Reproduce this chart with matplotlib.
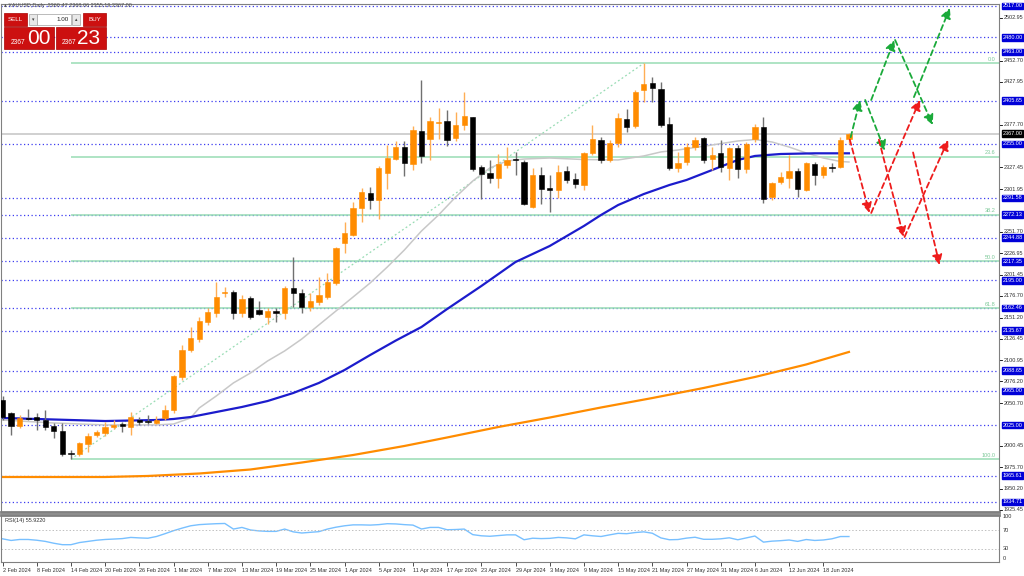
import matplotlib.pyplot as plt
import matplotlib.transforms as mtransforms
from matplotlib.patches import Rectangle

plt.rcParams['font.family'] = ['Liberation Sans', 'DejaVu Sans']

W, H = 1024, 576

# --- свечи XAUUSD Daily, 2 Feb 2024 .. 21 Jun 2024 (индекс бара 0..99)
opens = [2054.4, 2038.8, 2023.9, 2033.0, 2034.8, 2030.9, 2023.9, 2018.0, 1992.5, 1991.0,
         2002.7, 2013.3, 2015.3, 2022.3, 2025.9, 2023.1, 2030.9, 2029.7, 2027.8, 2033.6,
         2042.7, 2081.1, 2113.1, 2125.7, 2146.3, 2156.9, 2179.6, 2181.6, 2156.2, 2173.8,
         2160.0, 2152.2, 2158.9, 2156.2, 2185.5, 2179.6, 2163.2, 2169.8, 2175.7, 2191.4,
         2239.1, 2248.1, 2279.5, 2297.8, 2289.2, 2321.3, 2337.0, 2351.1, 2331.5, 2370.2,
         2360.8, 2379.2, 2382.3, 2362.3, 2377.2, 2386.3, 2327.6, 2320.5, 2314.7, 2330.3,
         2336.5, 2334.2, 2281.3, 2318.5, 2303.6, 2300.9, 2323.6, 2313.5, 2306.8, 2344.7,
         2359.6, 2336.2, 2356.5, 2384.7, 2376.1, 2418.3, 2426.2, 2419.2, 2378.1, 2326.4,
         2334.2, 2351.1, 2361.6, 2337.0, 2344.0, 2326.4, 2350.6, 2325.2, 2360.5, 2375.3,
         2292.4, 2310.7, 2314.7, 2323.6, 2300.9, 2331.5, 2318.5, 2327.4, 2328.3, 2360.47]
highs = [2059.0, 2040.7, 2036.8, 2043.5, 2038.8, 2042.7, 2027.0, 2027.0, 1995.7, 2005.6,
         2015.3, 2019.2, 2028.9, 2030.5, 2028.9, 2040.7, 2034.8, 2036.8, 2035.6, 2048.5,
         2083.8, 2119.0, 2140.5, 2152.2, 2162.0, 2193.3, 2187.4, 2183.5, 2177.7, 2176.5,
         2171.0, 2162.0, 2162.0, 2188.2, 2222.6, 2184.4, 2179.6, 2199.2, 2203.1, 2234.5,
         2263.7, 2286.7, 2302.9, 2304.8, 2329.1, 2353.8, 2359.0, 2358.8, 2376.1, 2430.1,
         2387.0, 2396.9, 2394.9, 2392.6, 2416.3, 2387.0, 2330.3, 2336.2, 2343.2, 2351.1,
         2345.9, 2336.2, 2326.4, 2327.6, 2318.5, 2330.3, 2328.7, 2320.9, 2345.9, 2377.2,
         2362.8, 2359.5, 2391.0, 2395.7, 2418.5, 2449.7, 2433.2, 2427.8, 2387.0, 2345.9,
         2355.8, 2363.5, 2363.5, 2351.8, 2359.6, 2351.8, 2353.8, 2357.3, 2378.4, 2387.0,
         2310.5, 2322.4, 2342.0, 2326.4, 2334.2, 2334.2, 2330.3, 2332.3, 2363.5, 2368.06]
lows = [2031.0, 2013.3, 2021.2, 2031.0, 2019.2, 2019.2, 2009.4, 1988.7, 1984.6, 1988.7,
        1993.7, 2011.0, 2012.0, 2020.0, 2017.2, 2013.3, 2025.0, 2026.0, 2026.0, 2030.9,
        2038.8, 2077.9, 2111.0, 2122.8, 2142.5, 2152.2, 2175.7, 2149.0, 2152.2, 2149.8,
        2154.2, 2143.9, 2146.0, 2149.0, 2164.0, 2156.2, 2159.3, 2166.0, 2172.6, 2189.8,
        2226.6, 2246.5, 2263.7, 2278.3, 2266.5, 2301.8, 2336.0, 2317.4, 2324.4, 2332.3,
        2336.2, 2360.8, 2352.6, 2359.0, 2371.4, 2322.9, 2290.0, 2309.5, 2303.6, 2326.4,
        2318.5, 2283.3, 2279.5, 2284.5, 2275.5, 2291.2, 2309.3, 2303.0, 2301.0, 2342.0,
        2332.3, 2334.0, 2351.0, 2369.4, 2373.7, 2404.6, 2404.6, 2375.3, 2324.4, 2322.4,
        2330.3, 2348.0, 2332.3, 2324.4, 2322.4, 2312.7, 2314.7, 2321.3, 2357.6, 2285.3,
        2289.2, 2307.6, 2302.9, 2293.1, 2299.6, 2306.8, 2314.7, 2322.4, 2326.4, 2355.19]
closes = [2034.5, 2023.9, 2032.9, 2032.5, 2030.9, 2022.3, 2018.0, 1991.0, 1990.6, 2003.6,
          2012.5, 2017.2, 2022.3, 2025.0, 2023.9, 2034.8, 2029.0, 2028.2, 2030.9, 2042.7,
          2082.6, 2113.1, 2126.8, 2147.1, 2158.1, 2175.7, 2181.6, 2156.2, 2172.6, 2152.2,
          2155.0, 2158.9, 2156.2, 2185.5, 2179.6, 2164.0, 2171.0, 2177.7, 2193.3, 2232.5,
          2250.1, 2279.5, 2299.0, 2289.2, 2326.4, 2338.2, 2351.8, 2332.3, 2371.4, 2341.2,
          2381.9, 2380.8, 2359.6, 2377.2, 2387.8, 2325.2, 2319.7, 2314.7, 2331.5, 2336.2,
          2336.0, 2284.5, 2318.5, 2302.1, 2300.9, 2322.4, 2312.7, 2307.6, 2344.7, 2360.5,
          2336.2, 2356.5, 2385.1, 2375.3, 2416.3, 2425.0, 2420.3, 2377.2, 2326.4, 2333.0,
          2351.8, 2359.6, 2336.2, 2342.0, 2328.3, 2349.9, 2325.6, 2354.6, 2375.3, 2290.4,
          2308.8, 2315.9, 2323.6, 2301.8, 2333.0, 2318.5, 2328.3, 2326.8, 2359.6, 2367.00]

# --- скользящие средние (индекс бара, цена)
ma_gray_idx = [0, 6, 12, 18, 20, 22, 23, 25, 27, 29, 31, 33, 35, 37, 39, 41, 43, 45, 47, 49,
               51, 53, 55, 57, 59, 61, 64, 68, 72, 75, 77, 79, 83, 86, 88, 90, 92, 94, 96, 98, 99]
ma_gray_val = [2030.9, 2027.4, 2025.1, 2025.1, 2026.2, 2033.3, 2045.0, 2059.1, 2074.4, 2086.1,
               2100.2, 2112.0, 2126.0, 2142.5, 2158.9, 2175.3, 2191.8, 2210.5, 2230.5, 2252.8,
               2271.6, 2292.7, 2311.5, 2326.8, 2335.0, 2337.3, 2338.5, 2336.7, 2336.2, 2340.9,
               2345.6, 2347.9, 2353.8, 2358.5, 2360.2, 2357.3, 2351.4, 2344.4, 2338.5, 2334.4, 2333.8]
ma_blue_idx = [0, 6, 12, 18, 20, 22, 25, 28, 31, 34, 37, 40, 43, 46, 49, 52, 56, 60, 64, 68,
               70, 72, 75, 78, 80, 83, 86, 88, 91, 95, 99]
ma_blue_val = [2033.3, 2031.5, 2029.7, 2030.9, 2032.1, 2034.4, 2040.3, 2046.2, 2053.2, 2062.6,
               2074.4, 2089.6, 2107.2, 2124.2, 2140.1, 2161.2, 2188.2, 2216.4, 2235.2, 2258.7,
               2271.6, 2283.3, 2296.2, 2306.8, 2312.7, 2324.4, 2336.2, 2340.9, 2343.2, 2344.0, 2344.0]
ma_orange_idx = [0, 12, 17, 23, 29, 35, 41, 47, 52, 58, 64, 70, 76, 82, 88, 94, 99]
ma_orange_val = [1964.0, 1964.0, 1965.2, 1968.1, 1972.8, 1981.0, 1989.8, 2000.4, 2010.4, 2022.7,
                 2033.8, 2045.6, 2056.7, 2068.5, 2081.4, 2096.1, 2110.8]

# --- RSI(14) по барам
rsi = [51, 47.5, 49.6, 49.6, 48, 45.5, 41.5, 38.4, 38.4, 43,
       45.5, 48, 49.6, 50.5, 51.5, 54, 53, 52.3, 56, 62,
       68.5, 74, 79, 81.5, 82.6, 83.5, 84, 72, 75.5, 70,
       68, 67, 67, 72, 66, 63.5, 65, 66.4, 72, 76,
       79, 81, 81, 80.5, 81.5, 83.5, 83, 81.5, 80.5, 72.1,
       75.5, 75.5, 70.5, 71, 72, 60, 57.5, 56.5, 58, 59.5,
       59.5, 49, 52.3, 51.5, 52, 54, 53, 51, 59.5, 57.5,
       56, 59.5, 62.8, 62, 64.5, 66, 63, 53, 49, 49.5,
       52.5, 54.4, 50, 50, 51, 53.2, 49, 53, 57, 43.9,
       46, 47, 48.5, 45.5, 49.5, 47.5, 48.5, 51, 55.9, 55.92]

# --- горизонтальные уровни и Фибоначчи
levels = [2517.00, 2480.00, 2463.00, 2405.65, 2355.00, 2291.58, 2272.13, 2244.88, 2217.35,
          2195.00, 2162.46, 2135.67, 2088.65, 2065.00, 2025.00, 1965.61, 1934.71]
price_ticks = [2502.95, 2452.70, 2427.95, 2377.70, 2327.45, 2301.95, 2251.70, 2226.95, 2201.45,
               2176.70, 2151.20, 2126.45, 2100.95, 2076.20, 2050.70, 2000.45, 1975.70, 1950.20, 1925.45]
last_price = 2367.00
fib_levels = [2449.7, 2340.0, 2272.1, 2217.35, 2162.6, 1985.0]
fib_names = ['0.0', '23.6', '38.2', '50.0', '61.8', '100.0']
fib_start, fib_end = 8, 75

# --- прогнозные стрелки (бар, цена)
green_arrows = [((99.2, 2363.0), (100.3, 2406.6)),
                ((100.9, 2406.6), (103.2, 2347.0)),
                ((101.6, 2406.6), (104.3, 2477.0)),
                ((104.4, 2477.0), (108.8, 2377.3)),
                ((106.6, 2410.0), (110.8, 2514.6))]
red_arrows = [((99.1, 2360.0), (101.4, 2274.0)),
              ((101.6, 2274.0), (107.3, 2406.6)),
              ((102.5, 2360.0), (105.4, 2245.8)),
              ((105.5, 2245.8), (110.6, 2359.6)),
              ((106.5, 2345.0), (109.6, 2212.9))]

date_idx = list(range(0, 100, 4))
date_labels = ['2 Feb 2024', '8 Feb 2024', '14 Feb 2024', '20 Feb 2024', '26 Feb 2024',
               '1 Mar 2024', '7 Mar 2024', '13 Mar 2024', '19 Mar 2024', '25 Mar 2024',
               '1 Apr 2024', '5 Apr 2024', '11 Apr 2024', '17 Apr 2024', '23 Apr 2024',
               '29 Apr 2024', '3 May 2024', '9 May 2024', '15 May 2024', '21 May 2024',
               '27 May 2024', '31 May 2024', '6 Jun 2024', '12 Jun 2024', '18 Jun 2024']

BULL = '#FF8C00'
BEAR = '#000000'
FS = 4.0

fig = plt.figure(figsize=(W / 100, H / 100), dpi=100)
fig.patch.set_facecolor('white')


def px_axes(x0, y0, x1, y1):
    return fig.add_axes([x0 / W, 1 - y1 / H, (x1 - x0) / W, (y1 - y0) / H])


ax = px_axes(1, 4, 999, 512)
ax_rsi = px_axes(1, 515, 999, 562)
XMIN, XMAX = -0.18, 116.55
ax.set_xlim(XMIN, XMAX)
ax.set_ylim(1922.9, 2519.3)
ax.set_xticks([])
ax.set_yticks([])

# уровни
for lv in levels:
    ax.axhline(lv, color='#3c3cf0', ls=(0, (1, 2)), lw=0.9, zorder=1)
ax.axhline(last_price, color='#c8c8c8', lw=1.2, zorder=1)

# Фибоначчи
for lv, nm in zip(fib_levels, fib_names):
    ax.hlines(lv, fib_start, XMAX, color='#98dcb4', lw=1.1, zorder=1)
    ax.text(XMAX - 0.4, lv + 1.5, nm, color='#7cc898', fontsize=FS, ha='right', va='bottom')
ax.plot([fib_start, fib_end], [fib_levels[-1], fib_levels[0]], color='#98dcb4',
        ls=(0, (1.5, 2)), lw=0.9, zorder=1)

# скользящие
ax.plot(ma_orange_idx, ma_orange_val, color='#FF8C00', lw=1.6, zorder=2)
ax.plot(ma_gray_idx, ma_gray_val, color='#c8c8c8', lw=1.1, zorder=2)
ax.plot(ma_blue_idx, ma_blue_val, color='#1c1ccc', lw=1.6, zorder=2)

# свечи
for i, (o, h, l, c) in enumerate(zip(opens, highs, lows, closes)):
    bull = c >= o
    ax.vlines(i, l, h, color='#ffae55' if bull else '#707070', lw=1.0, zorder=3)
    ax.bar(i, max(abs(c - o), 1.0), bottom=min(o, c), width=0.62,
           color=BULL if bull else BEAR, edgecolor=BULL if bull else BEAR, lw=0.4, zorder=4)


# стрелки
def dashed_arrow(p0, p1, col):
    ax.annotate('', xy=p1, xytext=p0,
                arrowprops=dict(arrowstyle='-|>,head_length=0.6,head_width=0.3', color=col,
                                lw=1.3, ls=(0, (3, 2)), shrinkA=0, shrinkB=0), zorder=5)


for p0, p1 in green_arrows:
    dashed_arrow(p0, p1, '#1aaa3a')
for p0, p1 in red_arrows:
    dashed_arrow(p0, p1, '#ee1c1c')

# подписи цены справа
trans = mtransforms.blended_transform_factory(ax.transAxes, ax.transData)
for v in price_ticks:
    ax.plot([1.0, 1.003], [v, v], transform=trans, color='black', lw=0.6, clip_on=False)
    ax.text(1.0045, v, f'{v:.2f}', transform=trans, fontsize=FS, va='center', ha='left',
            color='#303030')
for v in levels:
    ax.text(1.0035, v, f'{v:.2f}', transform=trans, fontsize=FS, va='center', ha='left',
            color='white', bbox=dict(boxstyle='square,pad=0.15', fc='#0000d8', ec='#0000d8'))
ax.text(1.0035, last_price, f'{last_price:.2f}', transform=trans, fontsize=FS, va='center',
        ha='left', color='white', bbox=dict(boxstyle='square,pad=0.15', fc='black', ec='black'))

for sp in ax.spines.values():
    sp.set_color('#808080')
    sp.set_linewidth(0.8)
ax.spines['bottom'].set_linewidth(2.0)

# RSI
ax_rsi.set_xlim(XMIN, XMAX)
ax_rsi.set_ylim(1.2, 102.2)
ax_rsi.plot(range(len(rsi)), rsi, color='#78c0ff', lw=1.0)
for lv in (70, 30):
    ax_rsi.axhline(lv, color='#c0c0c0', ls=(0, (1.5, 2)), lw=0.7)
ax_rsi.text(0.004, 0.93, 'RSI(14) 55.9220', transform=ax_rsi.transAxes, fontsize=FS,
            va='top', ha='left', color='#303030')
ax_rsi.set_yticks([])
ax_rsi.set_xticks(date_idx)
ax_rsi.set_xticklabels(date_labels, ha='left')
ax_rsi.tick_params(axis='x', length=3, width=0.6, labelsize=FS, pad=1, colors='#303030')
for sp in ax_rsi.spines.values():
    sp.set_color('#808080')
    sp.set_linewidth(0.8)
ax_rsi.spines['top'].set_linewidth(2.0)

# наложение в пикселях: шапка, панель торговли, подписи RSI
ov = fig.add_axes([0, 0, 1, 1], zorder=10)
ov.set_xlim(0, W)
ov.set_ylim(H, 0)
ov.axis('off')
ov.patch.set_alpha(0)

for y, s in ((517, '100'), (530, '70'), (548, '30'), (558, '0')):
    ov.text(1003, y, s, fontsize=FS, va='center', ha='left', color='#303030')

ov.text(4, 6, '\u25b4 XAUUSD,Daily  2360.47 2368.06 2355.19 2367.00', fontsize=4.0,
        va='center', ha='left', color='#505050')

RED = '#cc1010'
ov.add_patch(Rectangle((4, 13), 23, 13, fc=RED, ec='#aa0000', lw=0.5))
ov.add_patch(Rectangle((83, 13), 23, 13, fc=RED, ec='#aa0000', lw=0.5))
ov.add_patch(Rectangle((29, 14), 8, 11, fc='#e8e8e8', ec='#a0a0a0', lw=0.5))
ov.add_patch(Rectangle((37, 14), 34, 11, fc='white', ec='#a0a0a0', lw=0.5))
ov.add_patch(Rectangle((72, 14), 8, 11, fc='#e8e8e8', ec='#a0a0a0', lw=0.5))
ov.add_patch(Rectangle((4, 27), 50, 22, fc=RED, ec='#aa0000', lw=0.5))
ov.add_patch(Rectangle((56, 27), 50, 22, fc=RED, ec='#aa0000', lw=0.5))
ov.text(15.5, 19.5, 'SELL', fontsize=4.5, color='white', ha='center', va='center')
ov.text(94.5, 19.5, 'BUY', fontsize=4.5, color='white', ha='center', va='center')
ov.text(33, 19.5, '\u25be', fontsize=3.5, color='#404040', ha='center', va='center')
ov.text(76, 19.5, '\u25b4', fontsize=3.5, color='#404040', ha='center', va='center')
ov.text(69, 19.5, '1.00', fontsize=4.5, color='#202020', ha='right', va='center')
ov.text(11, 42, '2367', fontsize=4.8, color='white', ha='left', va='center')
ov.text(27, 38.5, '00', fontsize=15, color='white', ha='left', va='center')
ov.text(62, 42, '2367', fontsize=4.8, color='white', ha='left', va='center')
ov.text(77, 38.5, '23', fontsize=15, color='white', ha='left', va='center')

fig.savefig('out.png', dpi=100, facecolor='white')
